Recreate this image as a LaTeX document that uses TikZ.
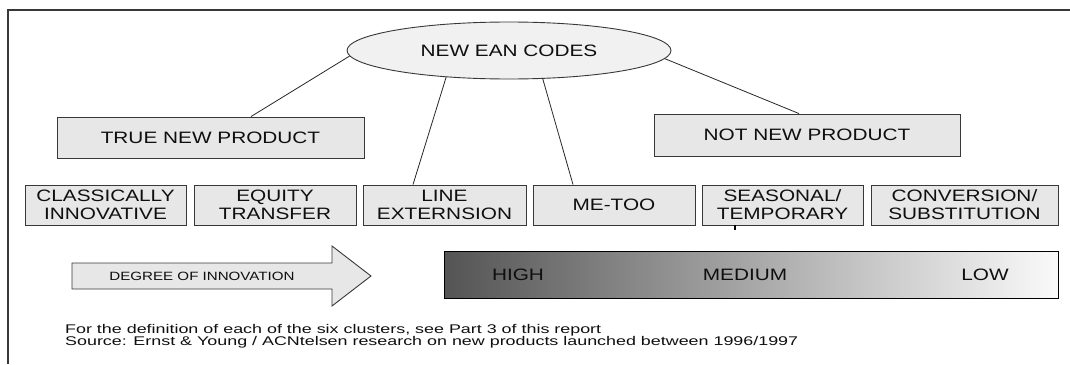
\documentclass[tikz,border=0pt]{standalone}
\usepackage{fontspec}
\setmainfont{Liberation Sans}[FakeStretch=1.26]
\newfontfamily\fnfont{Liberation Sans}[FakeStretch=1.42]
\usetikzlibrary{shapes.geometric}
\definecolor{boxfill}{gray}{0.905}
\definecolor{ellfill}{gray}{0.945}
\definecolor{edge}{gray}{0.22}
\definecolor{ink}{gray}{0.06}
\definecolor{barleft}{gray}{0.33}
\definecolor{barright}{gray}{0.98}
\begin{document}
\begin{tikzpicture}[x=1pt,y=-1pt,
  lbl/.style={font=\fontsize{16.5}{18}\selectfont, text=ink, align=center},
  box/.style={draw=edge, line width=0.9pt, fill=boxfill, inner sep=0pt, lbl},
  link/.style={draw=black!85, line width=0.8pt},
  foot/.style={anchor=base west, inner sep=0pt, font=\fnfont\fontsize{12.6}{14}\selectfont, text=ink},
]
\useasboundingbox (0,0) rectangle (1070,364);
% frame
\draw[line width=1.2pt, draw=edge] (8,364) -- (8,10) -- (1070,10);
% top ellipse
\node[ellipse, draw=edge, line width=0.9pt, fill=ellfill, minimum width=324pt, minimum height=57pt, inner sep=0pt, lbl] (ean) at (509,50.5) {NEW EAN CODES};
% level 1
\node[box, minimum width=307pt, minimum height=41pt] (tnp) at (210.5,137.5) {TRUE NEW PRODUCT};
\node[box, minimum width=306pt, minimum height=42pt] (nnp) at (807,135) {NOT NEW PRODUCT};
% level 2
\node[box, minimum width=161pt, minimum height=40pt] (cls) at (105.5,205) {CLASSICALLY\\INNOVATIVE};
\node[box, minimum width=162pt, minimum height=40pt] (eqt) at (275,205) {EQUITY\\TRANSFER};
\node[box, minimum width=163pt, minimum height=40pt] (lne) at (444.5,205) {LINE\\EXTERNSION};
\node[box, minimum width=162pt, minimum height=40pt] (mto) at (614,205) {ME-TOO};
\node[box, minimum width=161pt, minimum height=40pt] (sea) at (782.5,205) {SEASONAL/\\TEMPORARY};
\node[box, minimum width=187pt, minimum height=40pt] (cnv) at (964.5,205) {CONVERSION/\\SUBSTITUTION};
% connectors
\draw[link] (ean.182) -- ([xshift=40.5pt]tnp.north);
\draw[link] (ean.357) -- ([xshift=-8pt]nnp.north);
\draw[link] (ean.203) -- ([xshift=-31.5pt]lne.north);
\draw[link] (ean.320) -- ([xshift=-41pt]mto.north);
% small tick under seasonal
\draw[line width=1.7pt, draw=black] ([xshift=-47.5pt]sea.south) -- ++(0,5);
% degree of innovation arrow
\draw[draw=edge, line width=0.9pt, fill=boxfill] (72,263) -- (332,263) -- (332,246) -- (371,276) -- (332,306) -- (332,289) -- (72,289) -- cycle;
\node[font=\fontsize{12}{14}\selectfont, text=ink] (deg) at (202,276) {DEGREE OF INNOVATION};
% gradient bar
\node[draw=black, line width=1pt, left color=barleft, right color=barright, minimum width=614pt, minimum height=47pt, inner sep=0pt] (bar) at (751,274.5) {};
\node[lbl] (high) at (518,274.5) {HIGH};
\node[lbl] (med) at (745,274.5) {MEDIUM};
\node[lbl] (low) at (985,274.5) {LOW};
% footnotes
\node[foot] (fn1) at (65,333.5) {For the definition of each of the six clusters, see Part 3 of this report};
\node[foot] (fn2) at (65,345.5) {Source: Ernst \& Young / ACNtelsen research on new products launched between 1996/1997};
\end{tikzpicture}
\end{document}
